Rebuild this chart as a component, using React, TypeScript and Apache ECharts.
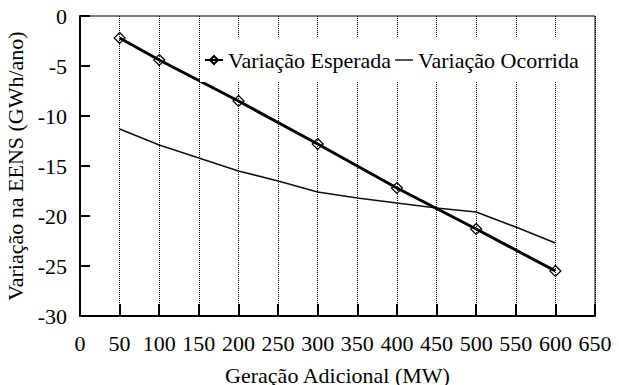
import React, { useEffect, useRef } from "react";
import * as echarts from "echarts";

const xEsperada = [50, 100, 200, 300, 400, 500, 600];
const yEsperada = [-2.2, -4.4, -8.5, -12.8, -17.2, -21.3, -25.5];
const xOcorrida = [50, 100, 150, 200, 250, 300, 350, 400, 450, 500, 550, 600];
const yOcorrida = [-11.3, -12.9, -14.2, -15.5, -16.5, -17.6, -18.2, -18.7, -19.2, -19.6, -21.1, -22.7];
const seriesNames = ["Variação Esperada", "Variação Ocorrida"];
const xTitle = "Geração Adicional (MW)";
const yTitle = "Variação na EENS (GWh/ano)";

const FONT = "Liberation Serif";
const FS = 22;
const txt = { fontFamily: FONT, fontSize: FS, color: "#000", fontWeight: "normal", fontStyle: "normal" };

export default function App() {
  const ref = useRef<HTMLDivElement>(null);
  useEffect(() => {
    if (!ref.current) return;
    const chart = echarts.init(ref.current, null, { renderer: "svg" });
    chart.setOption({
      animation: false,
      backgroundColor: "#fff",
      grid: {
        left: 80,
        top: 16,
        right: 24,
        bottom: 69,
        containLabel: false,
        outerBoundsMode: "none",
        show: true,
        borderColor: "#000",
        borderWidth: 1,
        backgroundColor: "transparent",
      },
      legend: {
        left: 200,
        top: 38,
        itemGap: 4,
        itemWidth: 18,
        itemHeight: 10,
        padding: [11, 10, 11, 4],
        backgroundColor: "#fff",
        symbolKeepAspect: true,
        textStyle: { ...txt },
        data: [
          { name: seriesNames[0] },
          { name: seriesNames[1], icon: "path://M0,0 L20,0 L20,1.6 L0,1.6 Z", itemStyle: { color: "#111" } },
        ],
      },
      xAxis: {
        type: "value",
        min: 0,
        max: 650,
        interval: 50,
        name: xTitle,
        nameLocation: "middle",
        nameGap: 48,
        nameTextStyle: { ...txt },
        axisLine: { show: true, onZero: false, lineStyle: { color: "#000", width: 2 } },
        axisTick: { show: true, inside: true, length: 12, lineStyle: { color: "#000", width: 2 } },
        axisLabel: { ...txt, margin: 16 },
        splitLine: {
          show: true,
          lineStyle: { color: "#000", width: 1, type: [1, 1] },
        },
      },
      yAxis: {
        type: "value",
        min: -30,
        max: 0,
        interval: 5,
        name: yTitle,
        nameLocation: "middle",
        nameGap: 44,
        nameTextStyle: { ...txt },
        axisLine: { show: true, onZero: false, lineStyle: { color: "#000", width: 2 } },
        axisTick: { show: true, inside: true, length: 10, lineStyle: { color: "#000", width: 2 } },
        axisLabel: { ...txt, margin: 13 },
        splitLine: { show: false },
      },
      series: [
        {
          name: seriesNames[0],
          type: "line",
          data: xEsperada.map((x, i) => [x, yEsperada[i]]),
          symbol: "diamond",
          symbolSize: 11,
          showAllSymbol: true,
          lineStyle: { color: "#000", width: 3 },
          itemStyle: { color: "rgba(255,255,255,0)", borderColor: "#000", borderWidth: 1.2 },
          z: 3,
        },
        {
          name: seriesNames[1],
          type: "line",
          data: xOcorrida.map((x, i) => [x, yOcorrida[i]]),
          symbol: "none",
          lineStyle: { color: "#111", width: 1.6 },
          itemStyle: { color: "#111" },
          z: 2,
        },
      ],
    });
    return () => chart.dispose();
  }, []);
  return (
    <div
      ref={ref}
      style={{ width: 619, height: 385, marginLeft: -8, marginTop: -8, fontFamily: "Liberation Serif" }}
    />
  );
}
